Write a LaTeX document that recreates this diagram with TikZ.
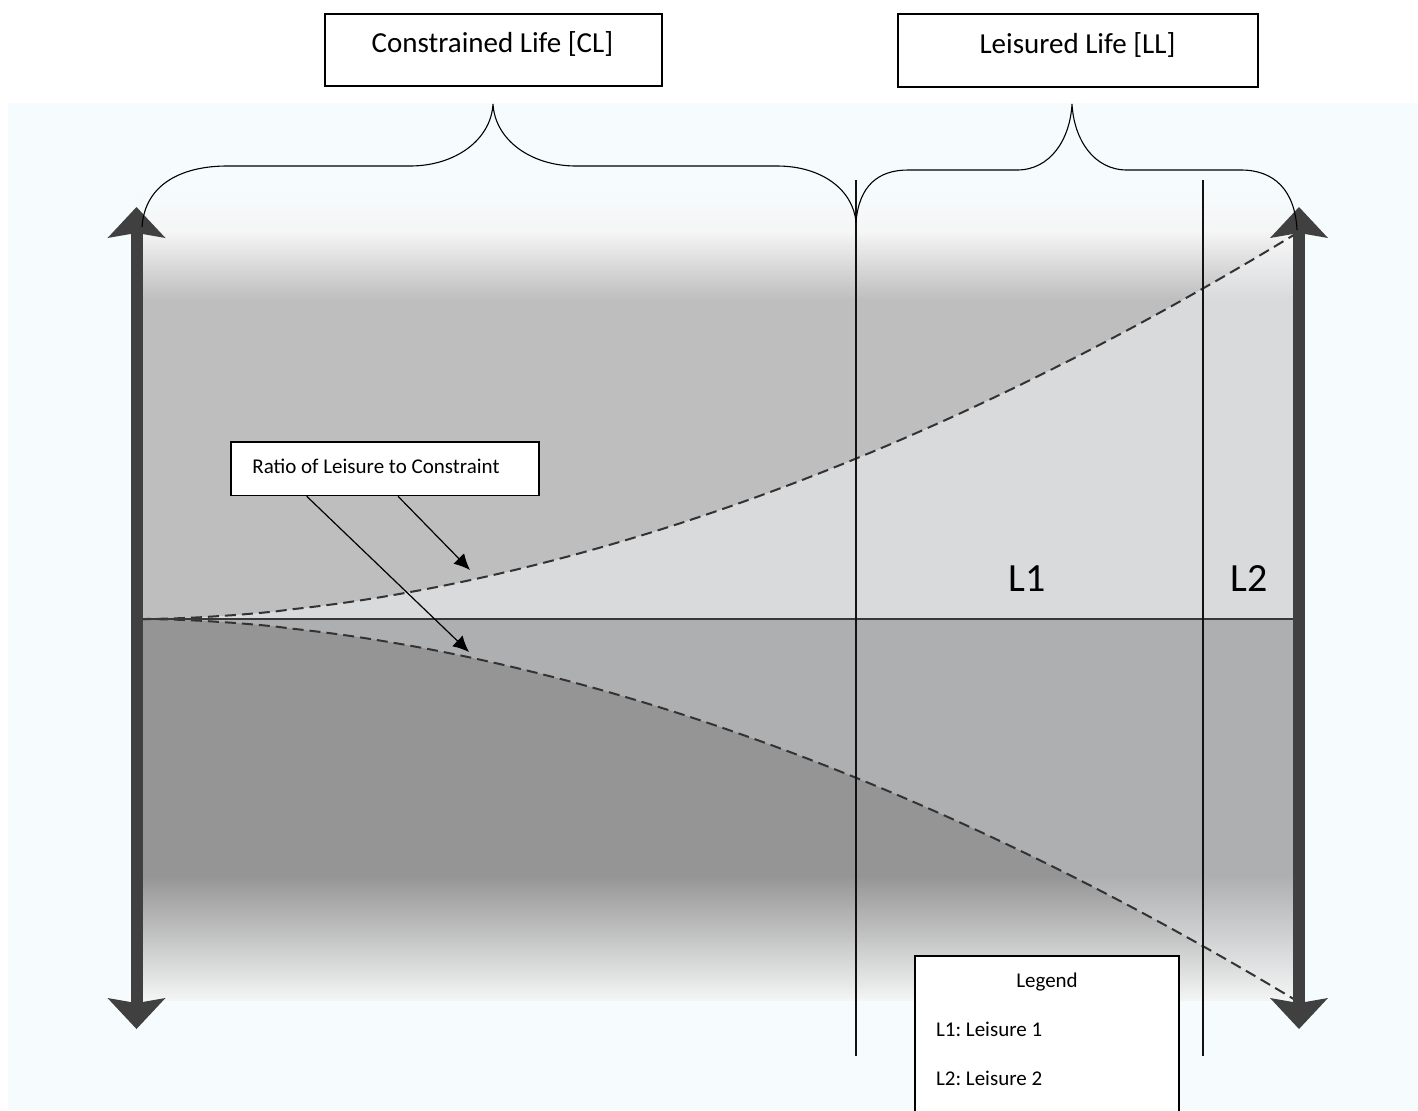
\documentclass[tikz,border=0pt]{standalone}
\usepackage{fontspec}
\setmainfont{Carlito}
\usetikzlibrary{arrows.meta,calc,fadings}

\definecolor{bgcyan}{HTML}{F6FCFD}
\definecolor{upgray}{HTML}{BEBEBE}
\definecolor{lowgray}{HTML}{959595}
\definecolor{uplight}{HTML}{D9DADC}
\definecolor{lowlight}{HTML}{AEAFB1}
\definecolor{arrowgray}{HTML}{404040}
\definecolor{dashgray}{HTML}{333333}
\definecolor{fadewhite}{HTML}{F5F6F6}

\tikzfading[name=fadetopdown, top color=transparent!15, bottom color=transparent!100]
\tikzfading[name=fadebottomup, top color=transparent!100, bottom color=transparent!0]

\tikzset{
  box/.style={draw=black, fill=white, line width=0.75pt, inner sep=0pt},
  bigtext/.style={font=\fontsize{14.5pt}{17pt}\selectfont, inner sep=0pt},
  smalltext/.style={font=\fontsize{10.5pt}{12.6pt}\selectfont, inner sep=0pt},
  huge/.style={font=\fontsize{20pt}{24pt}\selectfont, inner sep=0pt},
  bracestyle/.style={draw=black, line width=0.55pt},
  vline/.style={draw=black!93, line width=1.4pt},
  midline/.style={draw=black!78, line width=1pt},
  dashcurve/.style={draw=dashgray, line width=1pt, dash pattern=on 5.5pt off 3pt},
  ptr/.style={draw=black, line width=0.6pt, -{Latex[length=8pt,width=7.5pt]}},
  shaft/.style={draw=arrowgray, line width=6pt},
}

\begin{document}
\frenchspacing
\begin{tikzpicture}[x=0.5pt,y=-0.5pt]
\useasboundingbox (0,0) rectangle (1418,1110);
\fill[white] (0,0) rectangle (1418,1110);
\fill[bgcyan] (8,103) rectangle (1418,1110);

% soft glow above the grey field
\fill[fadewhite, path fading=fadebottomup] (136,190) rectangle (1298,232);

% grey field
\fill[upgray] (136,232) rectangle (1298,619);
\fill[lowgray] (136,619) rectangle (1298,1001);
\fill[uplight] (140,619) -- plot[domain=0.005:1,samples=80] ({140+1157*\x},{619-386*(\x)^1.83}) -- (1297,619) -- cycle;
\fill[lowlight] (140,619) -- plot[domain=0.005:1,samples=80] ({140+1157*\x},{619+382*(\x)^1.83}) -- (1297,619) -- cycle;

% fades
\fill[white, path fading=fadetopdown] (136,232) rectangle (1298,300);
\fill[fadewhite, path fading=fadebottomup] (136,875) rectangle (1298,1001);

% curves
\draw[dashcurve] (140,619) -- plot[domain=0.005:1,samples=80] ({140+1157*\x},{619-386*(\x)^1.83});
\draw[dashcurve] (140,619) -- plot[domain=0.005:1,samples=80] ({140+1157*\x},{619+382*(\x)^1.83});

% middle line
\coordinate (ml) at (140,619);
\coordinate (mr) at (1297,619);
\draw[midline] (ml) -- (mr);

% vertical dividers
\coordinate (v1t) at (856,180);
\coordinate (v1b) at (856,1056);
\coordinate (v2t) at (1203,180);
\coordinate (v2b) at (1203,1056);
\draw[vline] (v1t) -- (v1b);
\draw[vline] (v2t) -- (v2b);

% big double arrows
\coordinate (lat) at (136.5,207);
\coordinate (lab) at (136.5,1029);
\coordinate (rat) at (1299,207);
\coordinate (rab) at (1299,1029);
\draw[shaft] ($(lat)+(0,25)$) -- ($(lab)+(0,-25)$);
\draw[shaft] ($(rat)+(0,25)$) -- ($(rab)+(0,-25)$);
\foreach \p in {lat,rat}{
  \fill[arrowgray] (\p) -- ++(29,31) -- ++(-23,-4) -- ++(-12,0) -- ++(-23,4) -- cycle;
}
\foreach \p in {lab,rab}{
  \fill[arrowgray] (\p) -- ++(29,-31) -- ++(-23,4) -- ++(-12,0) -- ++(-23,-4) -- cycle;
}

% braces
\draw[bracestyle] (142,227) .. controls (145,182) and (185,166) .. (227,166)
  -- (410,166) .. controls (455,166) and (491,140) .. (493,104)
  .. controls (495,140) and (531,166) .. (576,166)
  -- (777,166) .. controls (822,166) and (853,190) .. (856,222);
\draw[bracestyle] (856,222) .. controls (859,186) and (878,170) .. (908,170)
  -- (1017,170) .. controls (1050,170) and (1070,140) .. (1072,104)
  .. controls (1074,140) and (1094,170) .. (1127,170)
  -- (1241,170) .. controls (1274,170) and (1295,190) .. (1297,230);

% top boxes
\node[box, minimum width=168.5pt, minimum height=36pt] (clbox) at (493.5,50) {};
\node[bigtext, anchor=base] (cltext) at (492.5,52.7) {Constrained Life [CL]};
\node[box, minimum width=180pt, minimum height=36.5pt] (llbox) at (1078,50.5) {};
\node[bigtext, anchor=base] (lltext) at (1077.5,53.3) {Leisured Life [LL]};

% L1 / L2
\node[huge, anchor=base] (l1) at (1027,591) {L1};
\node[huge, anchor=base] (l2) at (1249,591) {L2};

% ratio box and pointers
\node[box, minimum width=154pt, minimum height=26.75pt] (ratio) at (385,468.75) {};
\node[smalltext, anchor=base west] (ratiotext) at (252,473.3) {Ratio of Leisure to Constraint};
\coordinate (t1) at (470,570);
\coordinate (t2) at (469,652);
\draw[ptr] ($(ratio.south west)!0.542!(ratio.south east)$) -- (t1);
\draw[ptr] ($(ratio.south west)!0.247!(ratio.south east)$) -- (t2);

% legend
\node[box, minimum width=132pt, minimum height=80pt] (legend) at (1047,1036) {};
\node[smalltext, anchor=base] (legtitle) at (1047,987.3) {Legend};
\node[smalltext, anchor=base west] (leg1) at (935.7,1036) {L1: Leisure 1};
\node[smalltext, anchor=base west] (leg2) at (935.7,1085.7) {L2: Leisure 2};
\end{tikzpicture}
\end{document}
